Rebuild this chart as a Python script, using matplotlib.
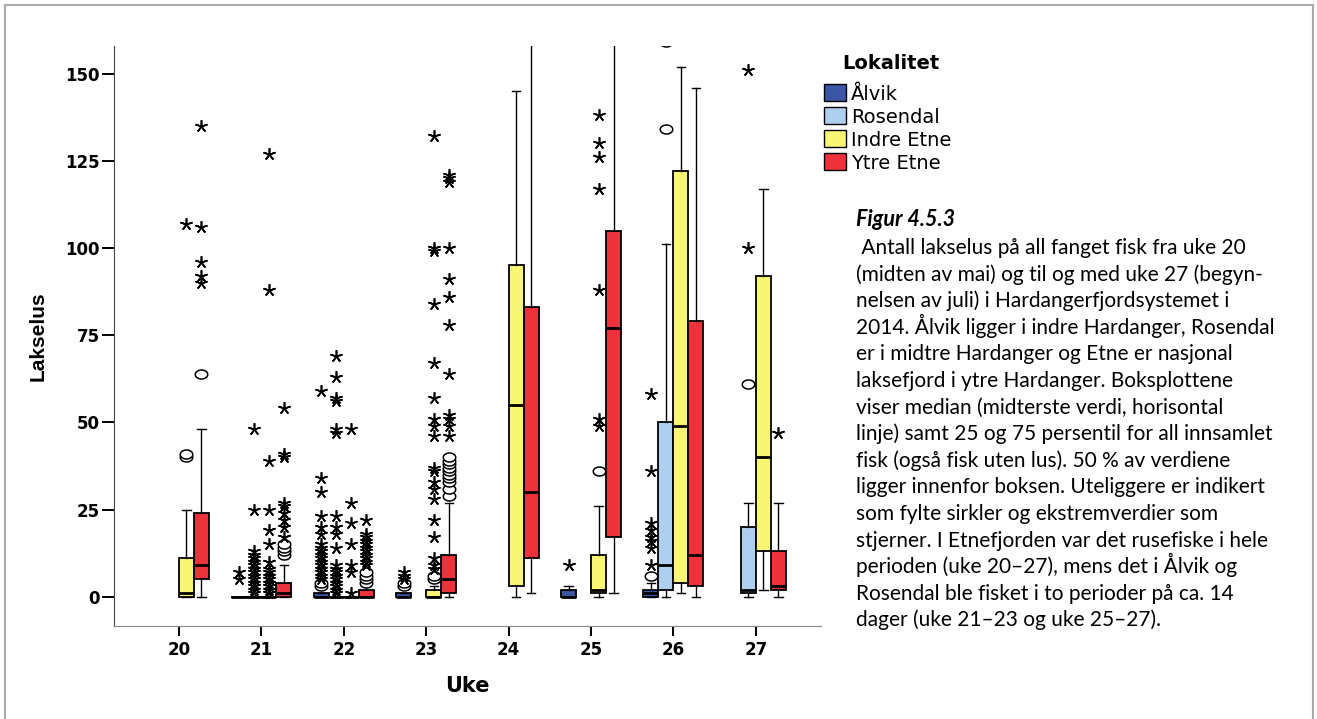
import numpy as np
import matplotlib.pyplot as plt
from matplotlib.patches import Rectangle

weeks = [20, 21, 22, 23, 24, 25, 26, 27]
localities = ['Ålvik', 'Rosendal', 'Indre Etne', 'Ytre Etne']
colors = ['#3a56a5', '#aecfee', '#f8f672', '#ee323b']

# (uke, nedre whisker, q1, median, q3, øvre whisker)
alvik_box = [
    (21, 0, 0, 0, 0, 0),
    (22, 0, 0, 0, 1, 1),
    (23, 0, 0, 0, 1, 1),
    (25, 0, 0, 0, 2, 3),
    (26, 0, 0, 1, 2, 4),
]
alvik_circles = {22: [3, 4], 23: [3, 4], 26: [6]}
alvik_stars = {
    21: [5, 7],
    22: [5, 6, 7, 8, 9, 10, 11, 12, 13, 14, 15, 18, 20, 23, 30, 34, 59],
    23: [5, 6, 7],
    25: [9],
    26: [9, 14, 16, 17, 19, 21, 36, 58],
}

rosendal_box = [
    (21, 0, 0, 0, 0, 0),
    (22, 0, 0, 0, 0, 0),
    (26, 0, 2, 9, 50, 101),
    (27, 0, 1, 2, 20, 27),
]
rosendal_circles = {26: [134, 159], 27: [61]}
rosendal_stars = {
    21: [1, 2, 3, 4, 5, 6, 7, 8, 9, 10, 11, 12, 13, 25, 48],
    22: [1, 2, 3, 4, 5, 6, 7, 8, 9, 14, 18, 20, 23, 47, 48, 56, 57, 63, 69],
    27: [100, 151],
}

indre_box = [
    (20, 0, 0, 1, 11, 25),
    (21, 0, 0, 0, 0, 0),
    (22, 0, 0, 0, 0, 0),
    (23, 0, 0, 0, 2, 3),
    (24, 0, 3, 55, 95, 145),
    (25, 0, 1, 2, 12, 26),
    (26, 1, 4, 49, 122, 152),
    (27, 2, 13, 40, 92, 117),
]
indre_circles = {20: [40, 41], 23: [5, 6], 25: [36]}
indre_stars = {
    20: [107],
    21: [1, 2, 3, 4, 5, 6, 7, 8, 10, 15, 19, 25, 39, 88, 127],
    22: [1, 7, 9, 15, 21, 27, 48],
    23: [8, 9, 11, 17, 22, 28, 31, 33, 36, 37, 46, 49, 51, 57, 67, 84, 99, 100, 132],
    25: [49, 51, 88, 117, 126, 130, 138],
}

ytre_box = [
    (20, 0, 5, 9, 24, 48),
    (21, 0, 0, 1, 4, 9),
    (22, 0, 0, 0, 2, 3),
    (23, 0, 1, 5, 12, 27),
    (24, 1, 11, 30, 83, 165),
    (25, 1, 17, 77, 105, 165),
    (26, 0, 3, 12, 79, 146),
    (27, 0, 2, 3, 13, 27),
]
ytre_circles = {
    20: [64],
    21: [12, 13, 14, 15],
    22: [4, 5, 6, 7],
    23: [29, 31, 33, 34, 35, 36, 37, 38, 39, 40],
}
ytre_stars = {
    20: [90, 92, 96, 106, 135],
    21: [17, 20, 22, 24, 26, 27, 40, 41, 54],
    22: [9, 10, 11, 12, 13, 14, 15, 16, 17, 18, 22],
    23: [46, 49, 51, 52, 64, 78, 86, 91, 100, 119, 120, 121],
    27: [47],
}

caption_title = 'Figur 4.5.3'
caption_lines = [
    ' Antall lakselus på all fanget fisk fra uke 20',
    '(midten av mai) og til og med uke 27 (begyn-',
    'nelsen av juli) i Hardangerfjordsystemet i',
    '2014. Ålvik ligger i indre Hardanger, Rosendal',
    'er i midtre Hardanger og Etne er nasjonal',
    'laksefjord i ytre Hardanger. Boksplottene',
    'viser median (midterste verdi, horisontal',
    'linje) samt 25 og 75 persentil for all innsamlet',
    'fisk (også fisk uten lus). 50 % av verdiene',
    'ligger innenfor boksen. Uteliggere er indikert',
    'som fylte sirkler og ekstremverdier som',
    'stjerner. I Etnefjorden var det rusefiske i hele',
    'perioden (uke 20–27), mens det i Ålvik og',
    'Rosendal ble fisket i to perioder på ca. 14',
    'dager (uke 21–23 og uke 25–27).',
]

boxes = [alvik_box, rosendal_box, indre_box, ytre_box]
circles = [alvik_circles, rosendal_circles, indre_circles, ytre_circles]
stars = [alvik_stars, rosendal_stars, indre_stars, ytre_stars]

W, H = 1317, 719
fig = plt.figure(figsize=(W / 100, H / 100), dpi=100)
ax = fig.add_axes([113.7 / W, (H - 626) / H, (821 - 113.7) / W, (626 - 45.7) / H])

slot = 0.182
offsets = [-1.5 * slot, -0.5 * slot, 0.5 * slot, 1.5 * slot]

# ellipse-shaped "O" marker like SPSS
t = np.linspace(0, 2 * np.pi, 40)
oval = np.column_stack([np.cos(t), 0.72 * np.sin(t)])

for i in range(4):
    stats = []
    pos = []
    for uke, lo, q1, med, q3, hi in boxes[i]:
        stats.append({'whislo': lo, 'q1': q1, 'med': med, 'q3': q3, 'whishi': hi, 'fliers': []})
        pos.append(uke + offsets[i])
    ax.bxp(stats, positions=pos, widths=slot, patch_artist=True, showfliers=False,
           manage_ticks=False, capwidths=0.1,
           boxprops=dict(facecolor=colors[i], edgecolor='black', linewidth=1.3),
           medianprops=dict(color='black', linewidth=2.0),
           whiskerprops=dict(color='black', linewidth=1.0),
           capprops=dict(color='black', linewidth=1.0))
    for uke, vals in circles[i].items():
        ax.plot([uke + offsets[i]] * len(vals), vals, linestyle='none', marker=oval,
                ms=9, mfc='white', mec='black', mew=1.1, zorder=4)
    for uke, vals in stars[i].items():
        ax.plot([uke + offsets[i]] * len(vals), vals, linestyle='none', marker=(5, 2, 0),
                ms=9, mec='black', mew=1.2, zorder=4)

ax.set_xlim(19.208, 27.79)
ax.set_ylim(-8.4, 158.0)
ax.set_xticks(weeks)
ax.set_yticks([0, 25, 50, 75, 100, 125, 150])
for sp in ['top', 'right']:
    ax.spines[sp].set_visible(False)
ax.spines['left'].set_color('#444444')
ax.spines['bottom'].set_color('#888888')
ax.tick_params(axis='y', length=9, width=1.4, pad=1, labelsize=12)
ax.tick_params(axis='x', length=7, width=1.4, pad=4, labelsize=12)
for lab in ax.get_xticklabels() + ax.get_yticklabels():
    lab.set_fontweight('bold')
    lab.set_family('DejaVu Sans')

ax.set_xlabel('Uke', fontsize=15, fontweight='bold', family='DejaVu Sans', labelpad=12)
ax.set_ylabel('Lakselus', fontsize=15, fontweight='bold', family='Liberation Sans')
ax.yaxis.set_label_coords(-0.094, 0.5)

# legend drawn by hand so the gaps follow the SPSS layout
fig.text(890.5 / W, 1 - 69 / H, 'Lokalitet', family='DejaVu Sans', weight='bold',
         fontsize=14, ha='center', va='baseline')
for k, (name, c) in enumerate(zip(localities, colors)):
    yc = 92 + 23.3 * k
    fig.add_artist(Rectangle((824 / W, 1 - (yc + 8.5) / H), 22 / W, 17 / H,
                             transform=fig.transFigure, facecolor=c,
                             edgecolor='black', linewidth=1.0))
    fig.text(851 / W, 1 - yc / H, name, family='DejaVu Sans', fontsize=14,
             ha='left', va='center_baseline')

fig.text(856 / W, 1 - 226 / H, caption_title, family='Lato', style='italic',
         weight='bold', fontsize=15.5, va='baseline')
for k, line in enumerate(caption_lines):
    fig.text(856 / W, 1 - (254 + 26.6 * k) / H, line, family='Lato',
             fontsize=15, va='baseline')

fig.add_artist(Rectangle((5 / W, -0.05), (1313 - 5) / W, 1.05 - 5 / H,
                         transform=fig.transFigure, fill=False,
                         edgecolor='#aaaaaa', linewidth=1.5))

fig.savefig('out.png', dpi=100)
